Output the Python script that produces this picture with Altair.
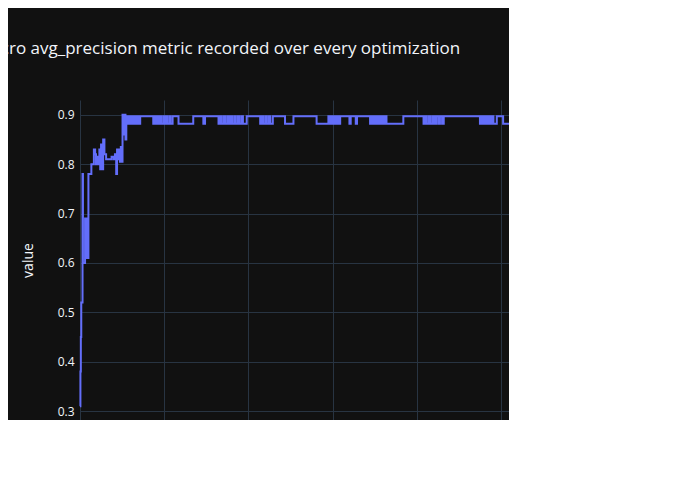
import altair as alt
import pandas as pd

# early climb: (index, value) change points
early = [(0, 0.31), (1, 0.38), (2, 0.45), (3, 0.52), (5, 0.52), (6, 0.78), (7, 0.60),
         (10, 0.60), (12, 0.69), (14, 0.61), (16, 0.69), (18, 0.61), (20, 0.78),
         (25, 0.78), (27, 0.80), (30, 0.80), (33, 0.83), (36, 0.82), (38, 0.80),
         (41, 0.815), (44, 0.80), (46, 0.83), (48, 0.79), (50, 0.84), (53, 0.79),
         (55, 0.85), (58, 0.82), (62, 0.81), (70, 0.81), (75, 0.815), (80, 0.81),
         (83, 0.82), (86, 0.78), (88, 0.83), (90, 0.81), (92, 0.83), (95, 0.805),
         (97, 0.835), (100, 0.805), (101, 0.90), (104, 0.86), (106, 0.90), (108, 0.85)]

# plateau: index where the value switches between the two levels
H, L = 0.897, 0.882
plateau = [(110, H), (113, L), (116, H), (118, L), (121, H), (124, L), (126, H),
           (129, L), (131, H), (134, L), (137, H), (140, L), (143, H), (174, L),
           (177, H), (180, L), (184, H), (186, L), (190, H), (193, L), (198, H),
           (201, L), (205, H), (207, L), (212, H), (215, L), (220, H), (234, L),
           (269, H), (293, L), (297, H), (329, L), (333, H), (337, L), (342, H),
           (345, L), (350, H), (354, L), (358, H), (362, L), (367, H), (370, L),
           (375, H), (378, L), (383, H), (387, L), (396, H), (428, L), (432, H),
           (436, L), (441, H), (444, L), (449, H), (452, L), (458, H), (487, L),
           (507, H), (562, L), (590, H), (594, L), (597, H), (601, L), (604, H),
           (608, L), (611, H), (615, L), (618, H), (640, L), (643, H), (655, L),
           (658, H), (689, L), (693, H), (697, L), (701, H), (705, L), (709, H),
           (713, L), (717, H), (721, L), (724, H), (728, L), (768, H), (816, L),
           (820, H), (824, L), (829, H), (833, L), (838, H), (842, L), (846, H),
           (851, L), (855, H), (860, L), (864, H), (871, H), (950, L), (954, H),
           (958, L), (962, H), (966, L), (970, H), (974, L), (978, H), (982, L),
           (990, H), (1005, L), (1019, L)]

rows = early + plateau
df = pd.DataFrame({"index": [r[0] for r in rows], "value": [r[1] for r in rows]})
df["variable"] = "macro avg_precision"

txt = "#f2f5fa"
grid = "#283442"
font = "Open Sans"

chart = (
    alt.Chart(df)
    .mark_line(interpolate="step-after", strokeWidth=2)
    .encode(
        x=alt.X("index:Q", scale=alt.Scale(domain=[0, 1019], nice=False),
                axis=alt.Axis(values=[0, 200, 400, 600, 800, 1000], title="index",
                              titlePadding=22)),
        y=alt.Y("value:Q", scale=alt.Scale(domain=[0.282, 0.93], nice=False, zero=False),
                axis=alt.Axis(values=[0.3, 0.4, 0.5, 0.6, 0.7, 0.8, 0.9], format=".1f",
                              title="value", titlePadding=22)),
        color=alt.Color("variable:N", scale=alt.Scale(range=["#636efa"]),
                        legend=alt.Legend(title="variable", orient="none", legendX=447,
                                          legendY=3, symbolType="stroke",
                                          symbolStrokeWidth=2, symbolSize=400)),
    )
    .properties(
        width=429, height=320,
        autosize=alt.AutoSizeParams(type="none"),
        padding={"left": 72, "top": 92, "right": 0, "bottom": 0},
        background="#111111",
        title=alt.Title("Macro avg_precision metric recorded over every optimization",
                        anchor="start", dx=-45, offset=42, fontSize=17,
                        fontWeight="normal", color=txt, font=font),
    )
    .configure_view(stroke=None, fill="#111111")
    .configure_axis(gridColor=grid, gridWidth=1, domain=False, ticks=False,
                    labelColor=txt, titleColor=txt, labelFont=font, titleFont=font,
                    labelFontSize=12, titleFontSize=14, titleFontWeight="normal",
                    labelPadding=6)
    .configure_legend(labelColor=txt, titleColor=txt, labelFont=font, titleFont=font,
                      labelFontSize=12, titleFontSize=14, titleFontWeight="normal")
)

chart.save("out.html", embed_options={"renderer": "svg", "actions": False})
